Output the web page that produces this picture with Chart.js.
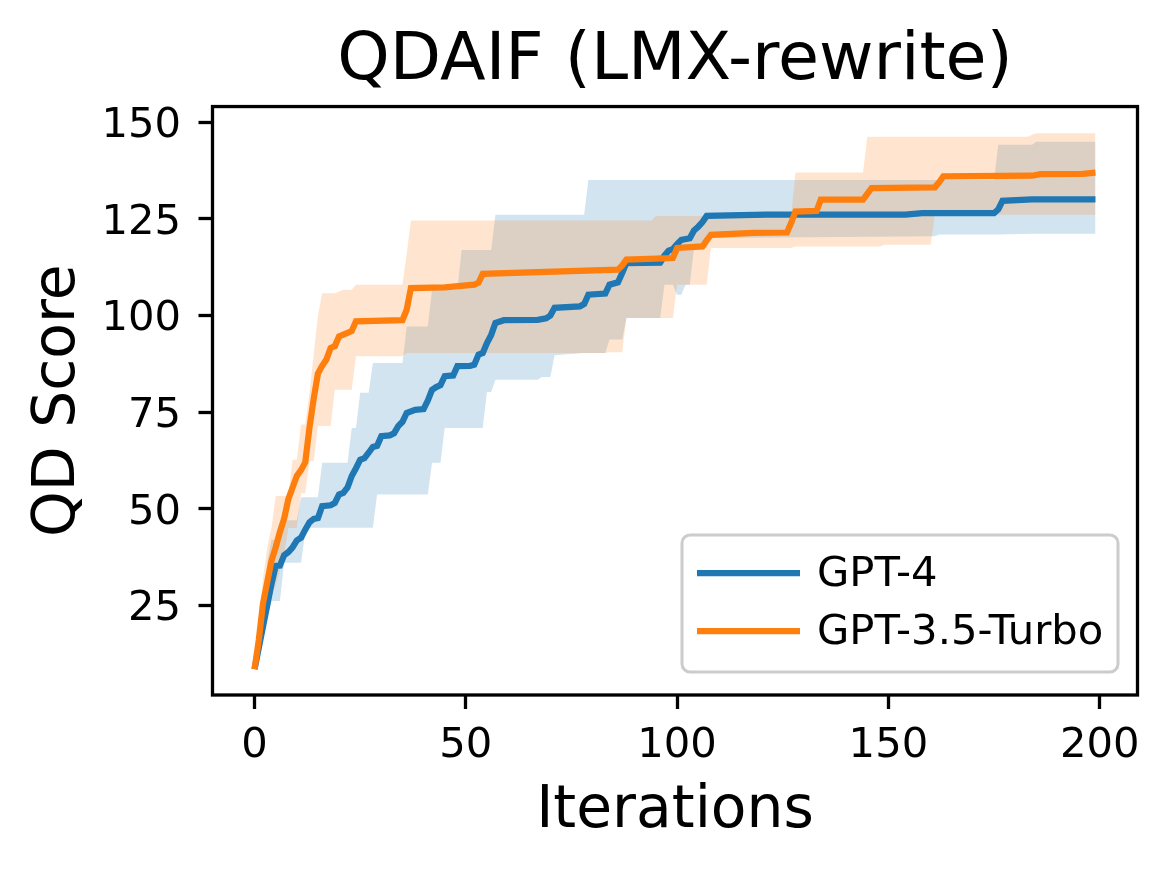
<!DOCTYPE html>
<html>
<head>
<meta charset="utf-8">
<title>QDAIF (LMX-rewrite)</title>
<script src="https://cdn.jsdelivr.net/npm/chart.js@4.4.1/dist/chart.umd.min.js"></script>
<style>
  html, body { margin: 0; padding: 0; background: #fff; }
  #wrap { width: 1170px; height: 870px; }
</style>
</head>
<body>
<div id="wrap"><canvas id="chart" width="1170" height="870"></canvas></div>
<script>

// =====================================================
// DATOS
// =====================================================

const xTicks = [0, 50, 100, 150, 200]
const yTicks = [25, 50, 75, 100, 125, 150]

// GPT-4: media
const gpt4Iter = [0, 1, 2, 3, 4, 5, 6, 7, 8, 9, 10, 11, 12, 13, 14, 15, 16, 18, 19, 20, 21, 22, 23, 24, 25, 26, 27, 28, 29, 30, 32, 33, 34, 35, 36, 38, 40, 41, 42, 43, 44, 45, 47, 48, 51, 52, 53, 54, 55, 56, 57, 59, 67, 69, 70, 71, 77, 78, 79, 83, 84, 86, 87, 88, 96, 97, 98, 99, 100, 101, 103, 104, 105, 106, 107, 121, 154, 158, 175, 176, 177, 184, 199]
const gpt4Mean = [8.5, 14, 19.5, 25, 30.5, 35.2, 35.3, 38, 38.8, 40, 41.8, 42.5, 44.6, 46.5, 47.4, 47.6, 50.7, 50.9, 51.5, 53.7, 54.1, 55.5, 58.5, 60.5, 62.7, 63.1, 64.5, 66, 66.3, 68.8, 69, 69.5, 71.4, 72.5, 74.8, 75.6, 75.8, 78, 80.8, 81.5, 82, 84.3, 84.5, 86.9, 87, 87.3, 89.9, 90.3, 92.9, 95, 98.1, 98.8, 98.9, 99.3, 100, 102, 102.4, 103, 105.4, 105.7, 108, 108.6, 111, 113.6, 113.7, 115.5, 116.8, 117.2, 118.5, 119.6, 120, 122, 123, 124.2, 125.8, 126.1, 126.1, 126.5, 126.5, 127.5, 129.7, 130.1, 130.1]

// GPT-4: banda
const gpt4BandIter = [0, 1, 2, 3, 4, 6, 7, 10, 11, 12, 13, 15, 16, 22, 23, 24, 25, 27, 28, 29, 35, 36, 41, 42, 44, 45, 48, 49, 54, 55, 56, 57, 67, 68, 70, 71, 78, 79, 83, 84, 87, 88, 96, 97, 99, 100, 101, 102, 103, 104, 107, 108, 161, 162, 175, 176, 184, 185, 199]
const gpt4Lo = [8.5, 13, 17.9, 22, 26.1, 26.1, 36, 36, 36, 44, 45.1, 45.1, 45.1, 45.1, 45.1, 45.1, 45.1, 45.1, 45.1, 53.7, 53.7, 53.7, 53.7, 61.9, 61.9, 70.9, 70.9, 70.9, 70.9, 80.2, 80.2, 83.4, 83.4, 84.1, 84.1, 89.7, 90.3, 90.3, 90.3, 93.8, 93.8, 99.4, 99.4, 108, 108, 105.4, 105.4, 108, 108, 117.5, 117.5, 120.1, 120.5, 121, 121, 121, 121.2, 121.2, 121.2]
const gpt4Hi = [8.5, 17, 24, 36, 42, 42, 47, 47, 53, 53, 53, 53, 61.9, 61.9, 70.9, 70.9, 80, 80, 87.7, 87.7, 87.7, 97.2, 97.2, 106.7, 106.7, 106.7, 106.7, 117, 117, 117, 117, 126.1, 126.1, 126.1, 126.1, 126.1, 126.1, 135.1, 135.1, 135.1, 135.1, 135.1, 135.1, 135.1, 135.1, 135.1, 135.1, 135.1, 135.1, 135.1, 135.1, 135.1, 135.1, 135.1, 135.1, 144.2, 144.2, 145, 145]

// GPT-3.5-Turbo: media
const gpt35Iter = [0, 1, 2, 3, 4, 5, 6, 7, 8, 9, 10, 11, 12, 13, 14, 15, 16, 17, 18, 19, 20, 22, 23, 24, 35, 36, 37, 45, 52, 53, 54, 86, 87, 88, 99, 100, 106, 107, 108, 118, 126, 127, 128, 133, 134, 144, 145, 146, 161, 162, 163, 184, 186, 196, 199]
const gpt35Mean = [8.5, 16, 25.5, 31, 36.5, 40, 44, 47.4, 52.5, 55.5, 58.5, 60, 62, 71, 78.5, 85, 87, 88.6, 91.6, 92.1, 94.6, 95.5, 96, 98.5, 98.8, 101.5, 107.1, 107.3, 108, 108.5, 110.8, 111.9, 113, 114.5, 114.9, 117.5, 117.9, 119.5, 120.9, 121.4, 121.5, 124, 126.9, 127.1, 130, 130, 131.5, 133, 133.2, 134.5, 136, 136.2, 136.6, 136.7, 137]

// GPT-3.5-Turbo: banda
const gpt35BandIter = [0, 1, 2, 3, 4, 5, 7, 8, 9, 10, 11, 12, 13, 14, 15, 16, 18, 19, 21, 23, 24, 35, 36, 37, 83, 84, 87, 88, 94, 95, 99, 100, 107, 108, 127, 128, 144, 145, 148, 149, 160, 161, 183, 184, 185, 199]
const gpt35Lo = [8.5, 14, 21, 26, 28.3, 30, 38, 45, 45, 45, 54, 54, 62.3, 62.3, 71.4, 71.4, 71.4, 80.8, 80.8, 80.8, 89.5, 89.5, 90.3, 90.3, 90.3, 90.5, 90.5, 99.4, 99.4, 99.4, 99.4, 108, 108, 117.5, 117.5, 117.9, 117.9, 117.9, 117.9, 118.3, 118.3, 126.1, 126.1, 126.1, 126.1, 126.1]
const gpt35Hi = [8.5, 20, 32, 40, 45, 53.3, 53.3, 53.3, 62.7, 62.7, 71.8, 71.8, 80, 90, 100, 105.8, 105.8, 105.8, 106.7, 106.7, 108, 108, 116, 124.6, 124.6, 124.6, 124.6, 124.6, 124.6, 125.8, 125.8, 125.8, 125.8, 125.8, 125.8, 137, 137, 146.3, 146.3, 146.3, 146.3, 146.3, 146.3, 146.8, 147.2, 147.2]

const series = ['GPT-4', 'GPT-3.5-Turbo']

// =====================================================
// ESTILO
// =====================================================

const AZUL    = '#1f77b4'
const NARANJA = '#ff7f0e'
const FUENTE  = "'DejaVu Sans', sans-serif"
const TICK_PX = 41.7

function pts(xs, ys) { return xs.map((x, i) => ({ x, y: ys[i] })) }

function linea(label, xs, ys, color) {
  return {
    label,
    data: pts(xs, ys),
    borderColor: color,
    borderWidth: 6.25,
    pointRadius: 0,
    fill: false,
    tension: 0
  }
}

function borde(xs, ys, fill, color) {
  return {
    label: '',
    data: pts(xs, ys),
    borderWidth: 0,
    borderColor: 'rgba(0,0,0,0)',
    pointRadius: 0,
    backgroundColor: color,
    fill,
    tension: 0
  }
}

// ── Marco completo y leyenda interna ───────────────
const marco = {
  id: 'marco',
  afterDatasetsDraw(chart) {
    const { ctx, chartArea: a } = chart
    ctx.save()
    ctx.strokeStyle = '#000'
    ctx.lineWidth = 3.3
    ctx.strokeRect(a.left, a.top, a.right - a.left, a.bottom - a.top)

    // leyenda
    const L = 682, T = 535, R = 1118, B = 672, r = 8
    ctx.beginPath()
    ctx.moveTo(L + r, T)
    ctx.arcTo(R, T, R, B, r)
    ctx.arcTo(R, B, L, B, r)
    ctx.arcTo(L, B, L, T, r)
    ctx.arcTo(L, T, R, T, r)
    ctx.closePath()
    ctx.fillStyle = 'rgba(255,255,255,0.8)'
    ctx.fill()
    ctx.strokeStyle = '#cccccc'
    ctx.lineWidth = 3
    ctx.stroke()

    const filas = [[series[0], AZUL, 573], [series[1], NARANJA, 631]]
    filas.forEach(([txt, col, y]) => {
      ctx.beginPath()
      ctx.moveTo(697, y)
      ctx.lineTo(800, y)
      ctx.strokeStyle = col
      ctx.lineWidth = 6.25
      ctx.stroke()
      ctx.fillStyle = '#000'
      ctx.font = `${TICK_PX}px ${FUENTE}`
      ctx.textBaseline = 'middle'
      ctx.textAlign = 'left'
      ctx.fillText(txt, 817, y + 2)
    })
    ctx.restore()
  }
}

// =====================================================
// GRÁFICA
// =====================================================

new Chart(document.getElementById('chart').getContext('2d'), {
  type: 'line',
  data: {
    datasets: [
      linea(series[1], gpt35Iter, gpt35Mean, NARANJA),
      linea(series[0], gpt4Iter, gpt4Mean, AZUL),
      borde(gpt35BandIter, gpt35Hi, '+1', 'rgba(255,127,14,0.2)'),
      borde(gpt35BandIter, gpt35Lo, false, 'rgba(0,0,0,0)'),
      borde(gpt4BandIter, gpt4Hi, '+1', 'rgba(31,119,180,0.2)'),
      borde(gpt4BandIter, gpt4Lo, false, 'rgba(0,0,0,0)')
    ]
  },
  options: {
    responsive: false,
    animation: false,
    devicePixelRatio: 1,
    layout: { padding: { top: 0, right: 32.5, bottom: 0, left: 0 } },
    plugins: {
      legend: { display: false },
      tooltip: { enabled: false },
      title: {
        display: true,
        fullSize: false,
        text: 'QDAIF (LMX-rewrite)',
        color: '#000',
        font: { family: FUENTE, size: 66.7, weight: 'normal', lineHeight: 1.2 },
        padding: { top: 22.1, bottom: 4.4 }
      }
    },
    scales: {
      x: {
        type: 'linear',
        min: -9.95,
        max: 208.95,
        afterBuildTicks: s => { s.ticks = xTicks.map(v => ({ value: v })) },
        afterFit: s => { s.height = 175 },
        ticks: {
          color: '#000',
          font: { family: FUENTE, size: TICK_PX },
          padding: 12,
          maxRotation: 0
        },
        grid: {
          drawOnChartArea: false,
          tickLength: 14,
          tickWidth: 3.3,
          tickColor: '#000'
        },
        border: { display: false },
        title: {
          display: true,
          text: 'Iterations',
          color: '#000',
          font: { family: FUENTE, size: 58.3, lineHeight: 1.2 },
          padding: { top: 0, bottom: 23.2 }
        }
      },
      y: {
        type: 'linear',
        min: 1.8,
        max: 154.1,
        afterBuildTicks: s => { s.ticks = yTicks.map(v => ({ value: v })) },
        afterFit: s => { s.width = 212.5 },
        ticks: {
          color: '#000',
          font: { family: FUENTE, size: TICK_PX },
          padding: 17.5,
          labelOffset: 4
        },
        grid: {
          drawOnChartArea: false,
          tickLength: 14,
          tickWidth: 3.3,
          tickColor: '#000'
        },
        border: { display: false },
        title: {
          display: true,
          text: 'QD Score',
          color: '#000',
          font: { family: FUENTE, size: 58.3, lineHeight: 1.2 },
          padding: { top: 23.6, bottom: 0 }
        }
      }
    }
  },
  plugins: [marco]
})
</script>
</body>
</html>
